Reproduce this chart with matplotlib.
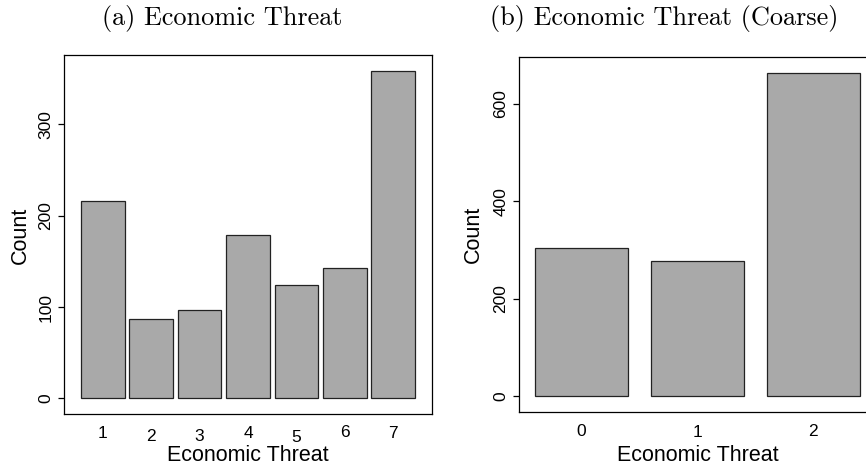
import matplotlib
matplotlib.use("Agg")
import matplotlib.pyplot as plt

# ---- data ----
threat_levels = ["1", "2", "3", "4", "5", "6", "7"]
threat_counts = [216, 87, 97, 179, 124, 143, 358]
coarse_levels = ["0", "1", "2"]
coarse_counts = [303, 277, 663]

# ---- style ----
W, H = 866, 470
DPI = 100
sans = ["Liberation Sans", "DejaVu Sans"]
bar_fill = "#A9A9A9"
bar_edge = "#222222"
# small vertical jitter of x labels (px) as in the reference rendering
label_jitter_px = [0, 3.3, 3.3, 0.3, 4.3, -0.7, 0]

fig = plt.figure(figsize=(W / DPI, H / DPI), dpi=DPI)


def px_axes(l, t, r, b):
    return fig.add_axes([l / W, 1 - b / H, (r - l) / W, (b - t) / H])


def style_axes(ax, labels, jitter):
    for s in ax.spines.values():
        s.set_linewidth(0.9)
        s.set_color("black")
    ax.set_xticks([])
    ax.tick_params(axis="y", direction="out", length=4, width=0.9,
                   pad=3.5, labelsize=12.5)
    for lab in ax.get_yticklabels():
        lab.set_rotation(90)
        lab.set_va("center")
        lab.set_fontfamily(sans)
    for i, t in enumerate(labels):
        ax.annotate(t, xy=(i, 0), xycoords=ax.get_xaxis_transform(),
                    xytext=(0, -(11.7 + jitter[i]) * 0.72),
                    textcoords="offset points", ha="center", va="top",
                    fontsize=12.5, family=sans)


# ---- panel (a) ----
ax1 = px_axes(64, 55, 432, 414)
x1 = list(range(len(threat_levels)))
ax1.bar(x1, threat_counts, width=0.9, color=bar_fill, edgecolor=bar_edge,
        linewidth=0.9)
ax1.set_xlim(-0.8, 6.8)
ax1.set_ylim(-17, 376)
ax1.set_yticks([0, 100, 200, 300])
style_axes(ax1, threat_levels, label_jitter_px)
fig.text(20 / W, 1 - 235.5 / H, "Count", rotation=90, ha="center",
         va="center", fontsize=15.5, family=sans)
fig.text(248 / W, 1 - 455.5 / H, "Economic Threat", ha="center",
         va="center", fontsize=15.5, family=sans)

# ---- panel (b) ----
ax2 = px_axes(519, 57.3, 876, 412.3)
x2 = list(range(len(coarse_levels)))
ax2.bar(x2, coarse_counts, width=0.8, color=bar_fill, edgecolor=bar_edge,
        linewidth=0.9)
ax2.set_xlim(-0.54, 2.54)
ax2.set_ylim(-33, 695)
ax2.set_yticks([0, 200, 400, 600])
style_axes(ax2, coarse_levels, [0, 0.7, 0])
fig.text(473.7 / W, 1 - 234.5 / H, "Count", rotation=90, ha="center",
         va="center", fontsize=15.5, family=sans)
fig.text(697.5 / W, 1 - 455.5 / H, "Economic Threat", ha="center",
         va="center", fontsize=15.5, family=sans)

# ---- titles (Computer Modern) ----
fig.text(221.7 / W, 1 - 25 / H, "(a) Economic Threat", ha="center",
         va="baseline", fontsize=18.9, family="cmr10")
fig.text(664 / W, 1 - 25 / H, "(b) Economic Threat (Coarse)", ha="center",
         va="baseline", fontsize=18.9, family="cmr10")

fig.savefig("out.png", dpi=DPI)
